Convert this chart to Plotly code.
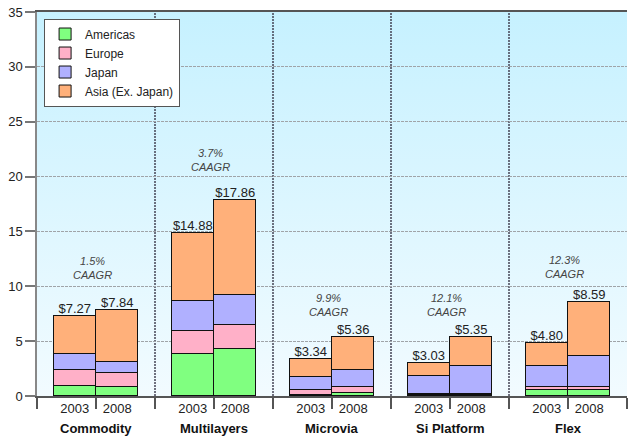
import base64
import plotly.graph_objects as go

# market by segment, $B, 2003 vs 2008
groups = ['Commodity', 'Multilayers', 'Microvia', 'Si Platform', 'Flex']
years = ['2003', '2008']
regions = ['Americas', 'Europe', 'Japan', 'Asia (Ex. Japan)']

americas_2003 = [0.91, 3.84, 0.09, 0.12, 0.55]
americas_2008 = [0.79, 4.30, 0.24, 0.12, 0.55]
europe_2003 = [1.49, 2.10, 0.46, 0.02, 0.24]
europe_2008 = [1.31, 2.19, 0.58, 0.02, 0.24]
japan_2003 = [1.44, 2.68, 1.19, 1.69, 1.95]
japan_2008 = [1.04, 2.74, 1.58, 2.60, 2.87]
asia_2003 = [3.43, 6.26, 1.60, 1.20, 2.06]
asia_2008 = [4.70, 8.63, 2.96, 2.61, 4.93]

totals_2003 = [7.27, 14.88, 3.34, 3.03, 4.80]
totals_2008 = [7.84, 17.86, 5.36, 5.35, 8.59]

caagr = ['1.5%', '3.7%', '9.9%', '12.1%', '12.3%']
caagr_y = [11.7, 21.5, 8.25, 8.25, 11.8]

colors = {'Americas': '#80ff80', 'Europe': '#ffb0c8',
          'Japan': '#b0b0ff', 'Asia (Ex. Japan)': '#ffb07a'}

series = {'Americas': (americas_2003, americas_2008),
          'Europe': (europe_2003, europe_2008),
          'Japan': (japan_2003, japan_2008),
          'Asia (Ex. Japan)': (asia_2003, asia_2008)}

off = 0.18
xpos = [i - off for i in range(len(groups))] + [i + off for i in range(len(groups))]
font = 'Liberation Sans, Arial, sans-serif'

fig = go.Figure()
for reg in regions:
    v03, v08 = series[reg]
    fig.add_trace(go.Bar(x=xpos, y=v03 + v08, name=reg, width=0.356,
                         marker_color=colors[reg],
                         marker_line=dict(color='#111', width=1),
                         hoverinfo='skip'))

fig.add_trace(go.Scatter(x=xpos, y=totals_2003 + totals_2008, mode='text',
                         text=['$%.2f' % v for v in totals_2003 + totals_2008],
                         textposition='top center',
                         textfont=dict(size=13, color='#222', family=font),
                         showlegend=False, hoverinfo='skip'))

for i, g in enumerate(groups):
    fig.add_annotation(x=i, y=0, xref='x', yref='paper', yanchor='top', yshift=-23,
                       text='<b>%s</b>' % g, showarrow=False,
                       font=dict(size=13, color='#111', family=font))
    fig.add_annotation(x=i - 0.03, y=caagr_y[i], text='<i>%s<br>CAAGR</i>' % caagr[i],
                       showarrow=False, yanchor='middle',
                       font=dict(size=11, color='#444', family=font))

for i in range(len(groups) - 1):
    fig.add_shape(type='line', x0=i + 0.5, x1=i + 0.5, y0=0, y1=35, xref='x', yref='y',
                  line=dict(color='#445', width=1.5, dash='2px,1px'), layer='below')

svg = ('<svg xmlns="http://www.w3.org/2000/svg" width="10" height="100" preserveAspectRatio="none">'
       '<defs><linearGradient id="g" x1="0" y1="0" x2="0" y2="1">'
       '<stop offset="0" stop-color="#c6f1ff"/><stop offset="1" stop-color="#f2fbff"/>'
       '</linearGradient></defs><rect width="10" height="100" fill="url(#g)"/></svg>')
bg = 'data:image/svg+xml;base64,' + base64.b64encode(svg.encode()).decode()
fig.add_layout_image(source=bg, xref='paper', yref='paper', x=0, y=1, sizex=1, sizey=1,
                     xanchor='left', yanchor='top', sizing='stretch', layer='below')

fig.update_layout(
    width=628, height=437,
    margin=dict(l=37, r=1, t=12, b=41),
    barmode='stack', bargap=0,
    paper_bgcolor='white', plot_bgcolor='rgba(0,0,0,0)',
    font=dict(family=font, size=13, color='#222'),
    showlegend=True,
    legend=dict(x=0.012, y=0.983, xanchor='left', yanchor='top', traceorder='normal',
                bgcolor='white', bordercolor='#555', borderwidth=1,
                font=dict(size=12, color='#222', family=font), tracegroupgap=0),
    xaxis=dict(range=[-0.5, 4.5], tickmode='array', tickvals=xpos,
               ticktext=[years[0]] * 5 + [years[1]] * 5,
               ticks='outside', ticklen=0, showgrid=False, zeroline=False,
               showline=True, linecolor='#555', linewidth=1.5, mirror=True,
               tickfont=dict(size=13, color='#222'),
               minor=dict(tickmode='array', tickvals=[k / 2 - 0.5 for k in range(11)],
                          ticks='outside', ticklen=11, tickcolor='#555', tickwidth=1.5,
                          showgrid=False)),
    yaxis=dict(range=[0, 35], tickmode='linear', tick0=0, dtick=5,
               ticks='outside', ticklen=10, tickcolor='#777', tickwidth=1.5,
               showline=True, linecolor='#888', linewidth=1.5,
               showgrid=True, gridcolor='#a0a4a8', gridwidth=1, griddash='3px,1px',
               zeroline=False, tickfont=dict(size=13, color='#222')),
)

# drop the default 8px page margin so the figure fills the window
fig.write_html('out.html', config={'displayModeBar': False},
               post_script="document.body.style.margin='0';")
